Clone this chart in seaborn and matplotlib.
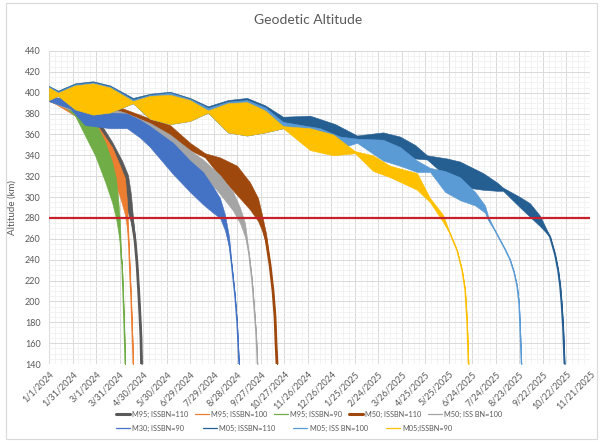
import pandas as pd
import matplotlib
matplotlib.use("Agg")
import matplotlib.pyplot as plt
import matplotlib.dates as mdates
from matplotlib.lines import Line2D
from matplotlib.patches import Rectangle
from matplotlib.ticker import MultipleLocator, FixedLocator, FuncFormatter
from matplotlib import font_manager
import seaborn as sns

START = pd.Timestamp("2024-01-01")
END_DAY = 690
TICK_STEP_DAYS = 30
REENTRY_ALT = 280

# Each run: elapsed days since 1 Jan 2024, and the low / high edge of the
# altitude swing (km) at that day.
m95_110_days = [0, 33.2, 58.7, 80.4, 93.1, 100.8, 104.6, 107.1, 109.7, 112.2, 114.8, 116.1, 117.3, 118.0, 118.6]
m95_110_lo = [393, 382, 360, 325, 300, 285, 275, 265, 255, 237, 204, 185, 165, 140, 125]
m95_110_hi = [396, 394, 379, 353, 335, 321, 302, 280, 262, 237, 204, 185, 165, 140, 125]

m95_100_days = [0, 33.2, 58.7, 80.4, 90.6, 96.9, 99.5, 100.8, 102.0, 103.3, 104.6, 105.9, 107.1, 107.8]
m95_100_lo = [393, 378, 350, 320, 300, 283, 270, 262, 250, 225, 204, 175, 150, 125]
m95_100_hi = [396, 392, 372, 348, 330, 318, 295, 275, 250, 225, 204, 175, 150, 125]

m95_90_days = [0, 14.0, 33.2, 45.9, 58.7, 71.4, 80.4, 85.4, 88.0, 90.6, 91.8, 93.1, 94.4, 95.7, 96.9, 97.6]
m95_90_lo = [393, 390, 378, 359, 340, 315, 295, 280, 268, 255, 245, 235, 210, 180, 150, 125]
m95_90_hi = [396, 395, 391, 385, 372, 353, 334, 318, 300, 275, 245, 235, 210, 180, 150, 125]

m50_110_days = [0, 52.3, 90.6, 122.4, 154.3, 179.8, 199.0, 218.1, 239.8, 256.4, 266.6, 271.7, 276.8,
                281.9, 285.7, 288.3, 289.5, 290.8, 292.1]
m50_110_lo = [392, 378, 376, 372, 359, 345, 338, 320, 302, 288, 277, 268, 255, 235, 210, 185, 160, 140, 125]
m50_110_hi = [396, 392, 386, 377, 369, 352, 342, 338, 330, 314, 299, 283, 265, 235, 210, 185, 160, 140, 125]

m50_100_days = [0, 52.3, 96.9, 128.8, 154.3, 179.8, 196.4, 218.1, 234.7, 243.6, 250.0, 255.1, 258.9,
                261.5, 264.0, 265.3, 266.6]
m50_100_lo = [392, 376, 369, 360, 346, 332, 322, 303, 287, 275, 262, 245, 220, 195, 170, 150, 125]
m50_100_hi = [396, 391, 381, 371, 360, 345, 336, 321, 305, 290, 275, 245, 220, 195, 170, 150, 125]

m50_90_days = [0, 26.8, 45.9, 77.8, 99.5, 116.1, 128.8, 158.2, 179.8, 196.4, 209.2, 218.1, 224.5,
               229.6, 233.4, 237.2, 239.8, 241.1, 242.3, 243.6]
m50_90_lo = [392, 385, 369, 366, 366, 357, 348, 322, 305, 293, 285, 280, 268, 252, 232, 205, 180, 160, 140, 125]
m50_90_hi = [396, 394, 386, 381, 380, 374, 368, 352, 335, 324, 310, 299, 283, 262, 232, 205, 180, 160, 140, 125]

m05_110_days = [0, 11.5, 33.2, 56.1, 77.8, 107.1, 128.8, 154.3, 179.8, 202.8, 228.3, 252.5, 275.5, 298.5,
                332.9, 364.8, 392.9, 426.0, 447.7, 466.8, 482.2, 507.6, 524.2, 553.6, 571.4, 579.1, 600.8,
                613.5, 626.3, 639.0, 645.4, 649.3, 651.9, 653.8, 655.7, 657.0, 658.2]
m05_110_lo = [393, 397, 384, 379, 381, 390, 375, 370, 373, 381, 362, 359, 362, 366, 360, 355, 355, 344, 340,
              337, 336, 319, 310, 307, 306, 306, 290, 281, 272, 262, 245, 230, 215, 198, 175, 150, 125]
m05_110_hi = [406.5, 402, 409, 411, 407, 395, 399, 401, 395, 387, 393, 395, 388, 377, 378, 370, 359, 362, 358,
              350, 340, 337, 334, 323, 314, 309, 300, 294, 282, 262, 245, 230, 215, 198, 175, 150, 125]

m05_100_days = [0, 11.5, 33.2, 56.1, 77.8, 107.1, 128.8, 154.3, 179.8, 202.8, 228.3, 252.5, 275.5, 298.5,
                345.7, 371.2, 392.9, 426.0, 447.7, 469.4, 486.0, 505.1, 524.2, 543.4, 556.1, 559.9, 568.8,
                575.2, 581.6, 588.0, 593.1, 596.9, 599.5, 600.8, 602.0, 603.3]
m05_100_lo = [393, 397, 384, 379, 381, 390, 375, 370, 373, 381, 362, 359, 362, 366, 350, 347, 352, 335, 330,
              324, 324, 305, 297, 292, 285, 278, 268, 259, 250, 240, 228, 215, 198, 175, 150, 125]
m05_100_hi = [406, 401, 408, 410, 406, 393.5, 398, 400, 394, 385.5, 391.5, 393, 386, 372, 366, 358, 356, 355,
              348, 335, 328, 325, 319, 305, 292, 282, 268, 259, 250, 240, 228, 215, 198, 175, 150, 125]

m05_90_days = [0, 11.5, 33.2, 56.1, 77.8, 107.1, 128.8, 154.3, 179.8, 202.8, 228.3, 252.5, 275.5, 298.5,
               332.9, 362.3, 390.3, 413.3, 435.0, 469.4, 486.0, 502.6, 511.5, 520.4, 526.8, 530.7, 533.2,
               534.5, 535.8]
m05_90_lo = [393, 397, 384, 379, 381, 390, 375, 370, 373, 381, 362, 359, 362, 366, 345, 340, 342, 325, 319,
             307, 295, 276, 265, 249, 230, 211, 180, 150, 125]
m05_90_hi = [405, 400, 407, 409, 405, 392, 397, 398, 393, 383, 390, 391, 383, 368, 366, 360, 344, 340, 330,
             323, 299, 283, 265, 249, 230, 211, 180, 150, 125]

series_names = ["M95; ISSBN=110", "M95; ISSBN=100", "M95; ISSBN=90",
                "M50; ISSBN=110", "M50; ISS BN=100", "M30; ISSBN=90",
                "M05; ISSBN=110", "M05; ISS BN=100", "M05;ISSBN=90"]
series_data = [
    (m95_110_days, m95_110_lo, m95_110_hi),
    (m95_100_days, m95_100_lo, m95_100_hi),
    (m95_90_days, m95_90_lo, m95_90_hi),
    (m50_110_days, m50_110_lo, m50_110_hi),
    (m50_100_days, m50_100_lo, m50_100_hi),
    (m50_90_days, m50_90_lo, m50_90_hi),
    (m05_110_days, m05_110_lo, m05_110_hi),
    (m05_100_days, m05_100_lo, m05_100_hi),
    (m05_90_days, m05_90_lo, m05_90_hi),
]
series_colors = ["#595959", "#ED7D31", "#70AD47",
                 "#9E480E", "#A5A5A5", "#4472C4",
                 "#255E91", "#5B9BD5", "#FFC000"]
series_widths = [2.0, 1.0, 1.0, 2.0, 1.0, 1.0, 1.4, 1.0, 1.0]

# Long table: two rows (low and high edge) per run and day
rows = []
for name, (days, lo, hi) in zip(series_names, series_data):
    dates = START + pd.to_timedelta(days, unit="D")
    for t, a, b in zip(dates, lo, hi):
        rows.append((name, t, a))
        rows.append((name, t, b))
df = pd.DataFrame(rows, columns=["run", "date", "alt"])

sns.set_style("white")
plt.rcParams["font.family"] = ["Lato", "DejaVu Sans"]
TEXT = "#595959"

fig = plt.figure(figsize=(6.0, 4.42), dpi=100)
ax = fig.add_axes([49 / 600, 78 / 442, 541 / 600, 313 / 442])

for i, (name, color, lw) in enumerate(zip(series_names, series_colors, series_widths)):
    sub = df[df["run"] == name]
    z = 2 + i * 0.1
    sns.lineplot(data=sub, x="date", y="alt", color=color, linewidth=lw,
                 estimator="mean", errorbar=("pi", 100),
                 err_kws={"alpha": 1.0, "linewidth": 0.4, "zorder": z},
                 zorder=z + 0.05, legend=False, ax=ax)

ax.axhline(REENTRY_ALT, color="#C8202A", linewidth=1.6, zorder=5)

# Axes, ticks and grid
ax.set_ylim(140, 440)
ax.yaxis.set_major_locator(MultipleLocator(20))
ax.yaxis.set_minor_locator(MultipleLocator(5))

x0 = mdates.date2num(START)
ax.set_xlim(x0, x0 + END_DAY)
ax.xaxis.set_major_locator(FixedLocator([x0 + d for d in range(0, END_DAY + 1, TICK_STEP_DAYS)]))
ax.xaxis.set_minor_locator(FixedLocator([x0 + d * 7.5 for d in range(0, int(END_DAY / 7.5) + 1)]))


def fmt_date(v, pos=None):
    d = mdates.num2date(v)
    return f"{d.month}/{d.day}/{d.year}"


ax.xaxis.set_major_formatter(FuncFormatter(fmt_date))
ax.grid(which="major", color="#D9D9D9", linewidth=0.7)
ax.grid(which="minor", color="#EFEFEF", linewidth=0.5)
ax.set_axisbelow(True)
for s in ax.spines.values():
    s.set_visible(False)
ax.tick_params(which="both", length=0)
ax.tick_params(axis="y", labelsize=6.5, labelcolor=TEXT, pad=6)
ax.tick_params(axis="x", labelsize=6.5, labelcolor=TEXT, pad=4)
for lab in ax.get_xticklabels():
    lab.set_rotation(45)
    lab.set_ha("right")
    lab.set_va("top")
    lab.set_rotation_mode("anchor")
ax.set_xlabel("")
ax.set_ylabel("Altitude (km)", fontsize=7, color=TEXT, labelpad=6)

fig.text(0.513, 0.955, "Geodetic Altitude", ha="center", va="center", fontsize=10, color=TEXT)

# Legend: two rows, each left-aligned like the chart's legend box
installed = {f.name for f in font_manager.fontManager.ttflist}
legend_family = "Liberation Sans Narrow" if "Liberation Sans Narrow" in installed else "Lato"
legend_size = 6.3 if legend_family == "Liberation Sans Narrow" else 5.3
legend_font = font_manager.FontProperties(family=legend_family, size=legend_size)

handles = [Line2D([], [], color=c, linewidth=(2.2 if lw >= 2 else 0.9))
           for c, lw in zip(series_colors, series_widths)]
leg_kw = dict(loc="upper left", frameon=False, prop=legend_font, handlelength=1.9,
              handletextpad=0.3, borderpad=0, borderaxespad=0)
leg1 = fig.legend(handles[:5], series_names[:5], ncol=5, columnspacing=0.9,
                  bbox_to_anchor=(116 / 600, 1 - 411 / 442), **leg_kw)
leg2 = fig.legend(handles[5:], series_names[5:], ncol=4, columnspacing=2.5,
                  bbox_to_anchor=(116 / 600, 1 - 425 / 442), **leg_kw)
for leg in (leg1, leg2):
    for t in leg.get_texts():
        t.set_color(TEXT)

fig.patches.append(Rectangle((6 / 600, 3 / 442), 591 / 600, 436 / 442, transform=fig.transFigure,
                             fill=False, edgecolor="#D9D9D9", linewidth=0.8))

fig.savefig("out.png", dpi=100)
